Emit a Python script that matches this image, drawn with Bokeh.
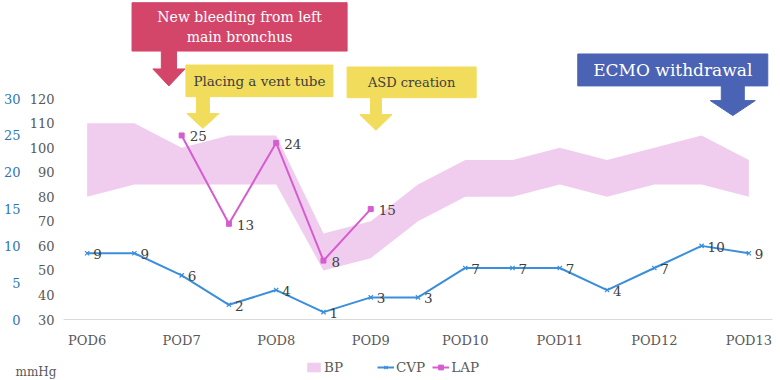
from bokeh.plotting import figure
from bokeh.layouts import column
from bokeh.models import (Range1d, LinearAxis, FixedTicker, Legend, LegendItem, Label)
from bokeh.core.properties import value
from bokeh.embed import file_html
from bokeh.resources import INLINE

# Half-day slots from POD6 to POD13; only whole days carry a label
slots = list(range(15))
day_labels = ["POD6", "POD7", "POD8", "POD9", "POD10", "POD11", "POD12", "POD13"]

# Blood pressure band (mmHg, left scale)
bp_high = [110, 110, 100, 105, 105, 65, 70, 85, 95, 95, 100, 95, 100, 105, 95]
bp_low = [80, 85, 85, 85, 85, 50, 55, 70, 80, 80, 85, 80, 85, 85, 80]

# Central venous pressure (mmHg, secondary scale)
cvp = [9, 9, 6, 2, 4, 1, 3, 3, 7, 7, 7, 4, 7, 10, 9]

# Left atrial pressure, measured while the vent tube was in place
lap_slots = [2, 3, 4, 5, 6]
lap = [25, 13, 24, 8, 15]

SERIF = "DejaVu Serif"
GREY = "#595959"
BLUE_AX = "#2E75B6"
CVP_COL = "#3A8EDB"
LAP_COL = "#D65CD0"
BP_COL = "#F0CDEE"

p = figure(width=780, height=350, output_backend="svg", toolbar_location=None,
           x_range=Range1d(-0.5, 14.5), y_range=Range1d(30, 160),
           min_border_left=63, min_border_right=8, min_border_top=0,
           min_border_bottom=27)
p.outline_line_color = None
p.grid.visible = False

# Secondary scale: 0-30 aligned with 30-120 on the primary scale
p.extra_y_ranges = {"cvp": Range1d(0, 130 / 3)}


def style_axis(ax, color, standoff):
    ax.axis_line_color = None
    ax.major_tick_line_color = None
    ax.minor_tick_line_color = None
    ax.major_tick_out = 0
    ax.major_tick_in = 0
    ax.minor_tick_out = 0
    ax.minor_tick_in = 0
    ax.major_label_standoff = standoff
    ax.major_label_text_font = SERIF
    ax.major_label_text_font_size = "13px"
    ax.major_label_text_color = color


# Primary (BP) axis
yax = p.yaxis[0]
yax.ticker = FixedTicker(ticks=list(range(30, 121, 10)))
style_axis(yax, GREY, 9)

# Secondary axis, outside the primary one
ax2 = LinearAxis(y_range_name="cvp", ticker=FixedTicker(ticks=list(range(0, 31, 5))))
style_axis(ax2, BLUE_AX, 6)
p.add_layout(ax2, "left")

# Category axis
xax = p.xaxis[0]
xax.ticker = FixedTicker(ticks=slots[::2])
xax.major_label_overrides = {s: d for s, d in zip(slots[::2], day_labels)}
style_axis(xax, GREY, 13)
xax.axis_line_color = "#D9D9D9"

# BP band
p.varea(x=slots, y1=bp_low, y2=bp_high, fill_color=BP_COL)

# CVP
p.line(slots, cvp, y_range_name="cvp", line_color=CVP_COL, line_width=2)
p.scatter(slots, cvp, y_range_name="cvp", marker="x", size=6,
          line_color=CVP_COL, line_width=1.2)
p.text(slots, cvp, text=[str(v) for v in cvp], y_range_name="cvp",
       x_offset=6, y_offset=1, text_baseline="middle", text_align="left",
       text_font=value(SERIF), text_font_size="13.5px", text_color="#404040")

# LAP
p.line(lap_slots, lap, y_range_name="cvp", line_color=LAP_COL, line_width=2)
p.scatter(lap_slots, lap, y_range_name="cvp", marker="square", size=5,
          fill_color=LAP_COL, line_color=LAP_COL)
p.text(lap_slots, lap, text=[str(v) for v in lap], y_range_name="cvp",
       x_offset=8, y_offset=1, text_baseline="middle", text_align="left",
       text_font=value(SERIF), text_font_size="13.5px", text_color="#404040")


def arrow_callout(x0, x1, ytop, ybot, cx, shaft_hw, head_hw, shaft_bot, tip):
    """Outline of a box with a downward arrow hanging from its lower edge."""
    xs = [x0, x1, x1, cx + shaft_hw, cx + shaft_hw, cx + head_hw, cx,
          cx - head_hw, cx - shaft_hw, cx - shaft_hw, x0]
    ys = [ytop, ytop, ybot, ybot, shaft_bot, shaft_bot, tip,
          shaft_bot, shaft_bot, ybot, ybot]
    return xs, ys


# Clinical events
events = [
    dict(text="New bleeding from left\nmain bronchus", color="#D4456A", text_color="white",
         size="14px", box=(0.95, 5.50, 159.1, 139.4),
         arrow=(1.73, 0.16, 0.34, 132.1, 125.2)),
    dict(text="Placing a vent tube", color="#F2DC5C", text_color="#404040",
         size="13.5px", box=(2.09, 5.20, 133.7, 120.8),
         arrow=(2.45, 0.137, 0.34, 113.9, 107.9)),
    dict(text="ASD creation", color="#F2DC5C", text_color="#404040",
         size="13px", box=(5.50, 8.23, 132.9, 120.4),
         arrow=(6.11, 0.116, 0.34, 113.5, 107.1)),
    dict(text="ECMO withdrawal", color="#4A63B5", text_color="white",
         size="17px", box=(10.38, 14.40, 138.2, 125.2),
         arrow=(13.66, 0.243, 0.476, 119.2, 113.1)),
]
for ev in events:
    x0, x1, yt, yb = ev["box"]
    cx, shw, hhw, sb, tip = ev["arrow"]
    xs, ys = arrow_callout(x0, x1, yt, yb, cx, shw, hhw, sb, tip)
    p.patch(xs, ys, fill_color=ev["color"], line_color=ev["color"])
    p.text([(x0 + x1) / 2], [(yt + yb) / 2], text=[ev["text"]],
           text_align="center", text_baseline="middle", text_line_height=1.25,
           text_font=value(SERIF), text_font_size=ev["size"], text_color=ev["text_color"])

# Legend strip under the chart; its swatches come from off-screen copies of the glyphs
leg = figure(width=780, height=30, output_backend="svg", toolbar_location=None,
             x_range=Range1d(0, 780), y_range=Range1d(0, 30),
             min_border=0, x_axis_type=None, y_axis_type=None)
leg.outline_line_color = None
leg.grid.visible = False
for fig in (p, leg):
    if "frame_align" in fig.properties():
        fig.frame_align = False
off = [-50, -40]
k_bp = leg.varea(x=off, y1=[0, 0], y2=[1, 1], fill_color=BP_COL)
k_cl = leg.line(off, [0, 0], line_color=CVP_COL, line_width=2)
k_cp = leg.scatter(off, [0, 0], marker="x", size=6, line_color=CVP_COL, line_width=1.2)
k_ll = leg.line(off, [0, 0], line_color=LAP_COL, line_width=2)
k_lp = leg.scatter(off, [0, 0], marker="square", size=5, fill_color=LAP_COL,
                   line_color=LAP_COL)

legend_style = dict(orientation="horizontal", border_line_color=None,
                    background_fill_alpha=0, label_text_font=SERIF,
                    label_text_font_size="13.5px", label_text_color=GREY,
                    glyph_width=17, glyph_height=12, label_standoff=2,
                    padding=2, margin=0, label_height=18)
leg.add_layout(Legend(items=[LegendItem(label="BP", renderers=[k_bp])],
                      location=(305, 4), spacing=0, **legend_style))
leg.add_layout(Legend(items=[LegendItem(label="CVP", renderers=[k_cl, k_cp]),
                             LegendItem(label="LAP", renderers=[k_ll, k_lp])],
                      location=(377, 4), spacing=7, **legend_style))
leg.add_layout(Label(x=15, y=9, text="mmHg", text_font=SERIF, text_font_size="12px",
                     text_color=GREY, text_baseline="middle"))

open("out.html", "w").write(file_html(column(p, leg, spacing=0), INLINE))
